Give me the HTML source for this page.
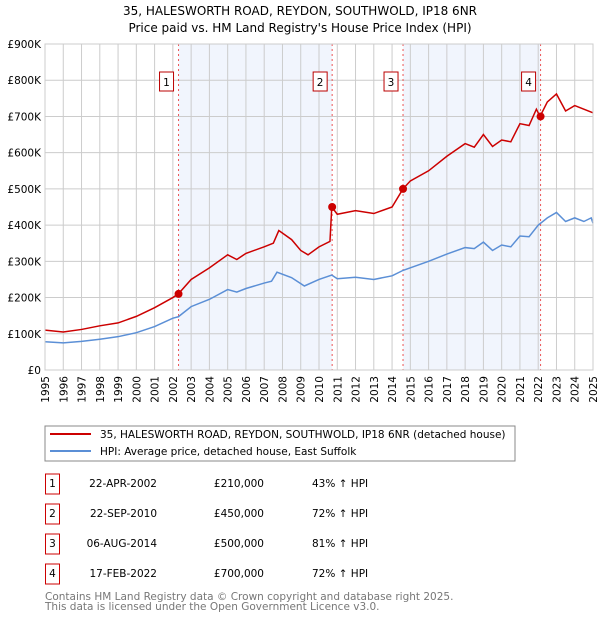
<!DOCTYPE html>
<html><head><meta charset="utf-8"><style>
body{margin:0;background:#fff;font-family:"DejaVu Sans","Liberation Sans",sans-serif;}
svg text{font-family:"DejaVu Sans","Liberation Sans",sans-serif;}
</style></head><body>
<svg id="c" width="600" height="620" xmlns="http://www.w3.org/2000/svg">
<text x="300" y="15" text-anchor="middle" font-size="12" fill="#000">35, HALESWORTH ROAD, REYDON, SOUTHWOLD, IP18 6NR</text>
<text x="300" y="32" text-anchor="middle" font-size="12" fill="#000">Price paid vs. HM Land Registry's House Price Index (HPI)</text>
<g id="plot"></g>
<rect x="45" y="426" width="470" height="35" fill="#fff" stroke="#888"/>
<line x1="50" y1="434" x2="91" y2="434" stroke="#cc0000" stroke-width="2"/>
<text x="100" y="438" font-size="10.5">35, HALESWORTH ROAD, REYDON, SOUTHWOLD, IP18 6NR (detached house)</text>
<line x1="50" y1="451" x2="91" y2="451" stroke="#5b8fd6" stroke-width="2"/>
<text x="100" y="455" font-size="10.5">HPI: Average price, detached house, East Suffolk</text>
<g id="table" font-size="10.5"></g>
<text x="45" y="600" font-size="10.5" fill="#777">Contains HM Land Registry data © Crown copyright and database right 2025.</text>
<text x="45" y="610" font-size="10.5" fill="#777">This data is licensed under the Open Government Licence v3.0.</text>
</svg>
<script>
const hpiX=[1995,1996,1997,1998,1999,2000,2001,2002,2002.3,2003,2004,2005,2005.5,2006,2007,2007.4,2007.7,2008.5,2009.2,2010,2010.7,2011,2012,2013,2014,2014.6,2015,2016,2017,2018,2018.5,2019,2019.5,2020,2020.5,2021,2021.5,2022,2022.5,2023,2023.5,2024,2024.5,2024.9,2025];
const hpiY=[78,75,79,85,92,103,120,143,147,175,195,222,215,225,240,245,270,255,232,250,262,252,256,250,260,275,282,300,320,338,335,353,330,345,340,370,368,400,420,435,410,420,410,420,405];
const redX=[1995,1996,1997,1998,1999,2000,2001,2002,2002.3,2003,2004,2005,2005.5,2006,2007,2007.5,2007.8,2008.5,2009,2009.4,2010,2010.6,2010.7,2011,2012,2013,2014,2014.6,2015,2016,2017,2018,2018.5,2019,2019.5,2020,2020.5,2021,2021.5,2021.9,2022.1,2022.5,2023,2023.5,2024,2024.5,2025];
const redY=[110,105,112,122,130,148,172,200,210,250,282,318,305,322,340,350,385,360,330,318,340,355,450,430,440,432,450,500,522,550,590,625,615,650,617,635,630,680,675,720,700,740,762,715,730,720,710];
const saleX=[2002.31,2010.72,2014.6,2022.13];
const saleY=[210,450,500,700];
const saleLabels=["1","2","3","4"];
const saleDates=["22-APR-2002","22-SEP-2010","06-AUG-2014","17-FEB-2022"];
const salePrices=["£210,000","£450,000","£500,000","£700,000"];
const saleHpi=["43% ↑ HPI","72% ↑ HPI","81% ↑ HPI","72% ↑ HPI"];
const yTicks=[0,100,200,300,400,500,600,700,800,900];
const yTickLabels=["£0","£100K","£200K","£300K","£400K","£500K","£600K","£700K","£800K","£900K"];
const xTicks=[1995,1996,1997,1998,1999,2000,2001,2002,2003,2004,2005,2006,2007,2008,2009,2010,2011,2012,2013,2014,2015,2016,2017,2018,2019,2020,2021,2022,2023,2024,2025];

const X0=45,X1=593,Y0=370,Y1=44;
const sx=v=>X0+(v-1995)/30*(X1-X0);
const sy=v=>Y0-v/900*(Y0-Y1);
const NS="http://www.w3.org/2000/svg";
const g=document.getElementById('plot');
function mk(t,a,p){const e=document.createElementNS(NS,t);for(const k in a)e.setAttribute(k,a[k]);(p||g).appendChild(e);return e;}
let e;
e=mk('rect',{x:X0,y:Y1,width:X1-X0,height:Y0-Y1,fill:'#fff'});


for(let i=0;i<saleX.length;i+=2){
 e=mk('rect',{x:sx(saleX[i]),y:Y1,width:sx(saleX[i+1])-sx(saleX[i]),height:Y0-Y1,fill:'#eef3fc',opacity:0.8});
 
 
}
yTicks.forEach((v,i)=>{
 e=mk('line',{x1:X0,x2:X1,y1:sy(v),y2:sy(v),stroke:'#ccc'});
 
 
 e=mk('text',{x:X0-4,y:sy(v)+4,'text-anchor':'end','font-size':10.5});
 e.textContent=yTickLabels[i];
 
 
});
xTicks.forEach(v=>{
 e=mk('line',{x1:sx(v),x2:sx(v),y1:Y1,y2:Y0,stroke:'#ccc'});
 
 
 e=mk('text',{x:0,y:0,'text-anchor':'end','font-size':10.5,transform:`translate(${sx(v)+4},${Y0+6}) rotate(-90)`});
 e.textContent=v;
 
 
});
saleX.forEach((v,i)=>{
 e=mk('line',{x1:sx(v),x2:sx(v),y1:Y1,y2:Y0,stroke:'#e55',"stroke-dasharray":"2,3"});
 
 
});
e=mk('polyline',{points:hpiX.map((x,i)=>sx(x)+','+sy(hpiY[i])).join(' '),fill:'none',stroke:'#5b8fd6','stroke-width':1.5});


e=mk('polyline',{points:redX.map((x,i)=>sx(x)+','+sy(redY[i])).join(' '),fill:'none',stroke:'#cc0000','stroke-width':1.5});


saleX.forEach((v,i)=>{
 e=mk('circle',{cx:sx(v),cy:sy(saleY[i]),r:4,fill:'#cc0000'});
 
 
 e=mk('rect',{x:sx(v)-19,y:72,width:14,height:19,fill:'#fff',stroke:'#b00'});
 
 
 e=mk('text',{x:sx(v)-12,y:86,'text-anchor':'middle','font-size':10.5});
 e.textContent=saleLabels[i];
 
 
});
e=mk('rect',{x:X0,y:Y1,width:X1-X0,height:Y0-Y1,fill:'none',stroke:'#ccc'});


const t=document.getElementById('table');
saleLabels.forEach((l,i)=>{
 const y=483+i*30;
 e=mk('rect',{x:45.5,y:y-9,width:14,height:20,fill:'#fff',stroke:'#cc0000'},t);
 
 
 e=mk('text',{x:52.5,y:y+4,'text-anchor':'middle'},t);e.textContent=l;
 
 
 e=mk('text',{x:157,y:y+4,'text-anchor':'end'},t);e.textContent=saleDates[i];
 
 
 e=mk('text',{x:264,y:y+4,'text-anchor':'end'},t);e.textContent=salePrices[i];
 
 
 e=mk('text',{x:312,y:y+4},t);e.textContent=saleHpi[i];
 
 
});
</script>
</body></html>
